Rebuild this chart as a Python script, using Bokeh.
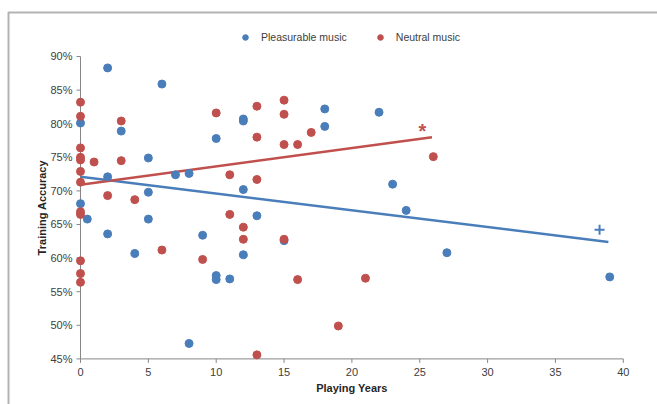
import math
from bokeh.plotting import figure
from bokeh.models import Range1d, Legend, LegendItem, BoxAnnotation
from bokeh.core.properties import value
from bokeh.embed import file_html
from bokeh.resources import INLINE

# ---- data ----
years_pleasurable = [0, 0, 0.5, 2, 2, 2, 3, 4, 5, 5, 5, 6, 7, 8, 8, 9, 10, 10, 10, 11,
                     12, 12, 12, 12, 13, 15, 18, 18, 22, 23, 24, 27, 39]
acc_pleasurable = [80.1, 68.1, 65.8, 88.3, 72.1, 63.6, 78.9, 60.7, 74.9, 69.8, 65.8, 85.9,
                   72.4, 72.6, 47.3, 63.4, 77.8, 57.4, 56.8, 56.9, 80.7, 80.4, 70.2, 60.5,
                   66.3, 62.6, 82.2, 79.6, 81.7, 71.0, 67.1, 60.8, 57.2]

years_neutral = [0, 0, 0, 0, 0, 0, 0, 0, 0, 0, 0, 0, 1, 2, 3, 3, 4, 6, 9, 10, 11, 11,
                 12, 12, 13, 13, 13, 13, 15, 15, 15, 15, 16, 16, 17, 19, 21, 26]
acc_neutral = [83.2, 81.1, 76.4, 75.0, 74.6, 72.9, 71.3, 66.9, 66.5, 59.6, 57.7, 56.4,
               74.3, 69.3, 80.4, 74.5, 68.7, 61.2, 59.8, 81.6, 72.4, 66.5, 64.6, 62.8,
               82.6, 78.0, 71.7, 45.6, 83.5, 81.4, 76.9, 62.8, 76.9, 56.8, 78.7, 49.9,
               57.0, 75.1]

trend_pleasurable_years = [0, 38.9]
trend_pleasurable_acc = [72.1, 62.4]
trend_neutral_years = [0, 25.9]
trend_neutral_acc = [70.9, 78.0]

sig_neutral_years = [25.2]
sig_neutral_acc = [79.4]
sig_neutral_text = ["*"]
sig_pleasurable_years = [38.25]
sig_pleasurable_acc = [64.2]

x_ticks = [0, 5, 10, 15, 20, 25, 30, 35, 40]
y_ticks = [45, 50, 55, 60, 65, 70, 75, 80, 85, 90]
x_tick_labels = [str(t) for t in x_ticks]
y_tick_labels = [f"{t}%" for t in y_ticks]

x_title = "Playing Years"
y_title = "Training Accuracy"
series_labels = ["Pleasurable music", "Neutral music"]

BLUE = "#4A7EBB"
RED = "#C0504D"
AXIS = "#868686"
TICK_TXT = "#404040"
TITLE_TXT = "#262626"
FONT = "Liberation Sans"
W, H = 657, 404

p = figure(width=W, height=H,
           x_range=Range1d(-5.895, 42.52), y_range=Range1d(38.214, 98.333),
           x_axis_type=None, y_axis_type=None,
           output_backend="svg", toolbar_location=None,
           min_border=0, min_border_left=0, min_border_right=0,
           min_border_top=0, min_border_bottom=0)
p.outline_line_color = None
p.background_fill_color = "white"
p.border_fill_color = "white"

# outer chart border (top and left edges visible in the reference)
p.add_layout(BoxAnnotation(left=8, right=W + 20, top=12, bottom=H + 20,
                           left_units="canvas", right_units="canvas",
                           top_units="canvas", bottom_units="canvas",
                           fill_alpha=0, line_color="black", line_width=2))

# axis lines and ticks
x0, y0 = x_ticks[0], y_ticks[0]
p.line([x0, x0], [y_ticks[0], y_ticks[-1]], line_color=AXIS, line_width=1)
p.line([x_ticks[0], x_ticks[-1]], [y0, y0], line_color=AXIS, line_width=1)
p.ray(x=[x0] * len(y_ticks), y=y_ticks, length=4, length_units="screen",
      angle=math.pi, line_color=AXIS, line_width=1)
p.ray(x=x_ticks, y=[y0] * len(x_ticks), length=4, length_units="screen",
      angle=-math.pi / 2, line_color=AXIS, line_width=1)

# tick labels
p.text(x=[x0] * len(y_ticks), y=y_ticks, text=y_tick_labels, x_offset=-8,
       text_align="right", text_baseline="middle", text_font=value(FONT),
       text_font_size="11px", text_color=TICK_TXT)
p.text(x=x_ticks, y=[y0] * len(x_ticks), text=x_tick_labels, y_offset=13,
       text_align="center", text_baseline="middle", text_font=value(FONT),
       text_font_size="11px", text_color=TICK_TXT)

# axis titles
p.text(x=[(x_ticks[0] + x_ticks[-1]) / 2], y=[y0], text=[x_title], y_offset=29,
       text_align="center", text_baseline="middle", text_font=value(FONT),
       text_font_size="11px", text_font_style="bold", text_color=TITLE_TXT)
p.text(x=[x0], y=[(y_ticks[0] + y_ticks[-1]) / 2], text=[y_title], x_offset=-38,
       angle=math.pi / 2, text_align="center", text_baseline="middle",
       text_font=value(FONT), text_font_size="11px", text_font_style="bold",
       text_color=TITLE_TXT)

# trend lines
p.line(trend_pleasurable_years, trend_pleasurable_acc, line_color=BLUE, line_width=2.5)
p.line(trend_neutral_years, trend_neutral_acc, line_color=RED, line_width=2.5)

# points
rb = p.scatter(years_pleasurable, acc_pleasurable, size=8, fill_color=BLUE, line_color=BLUE)
rr = p.scatter(years_neutral, acc_neutral, size=8, fill_color=RED, line_color=RED)

# significance marks
p.text(sig_neutral_years, sig_neutral_acc, text=sig_neutral_text,
       text_font=value(FONT), text_font_size="20px", text_font_style="bold",
       text_color=RED, text_align="center", text_baseline="middle", y_offset=3)
p.scatter(sig_pleasurable_years, sig_pleasurable_acc, marker="cross", size=10,
          line_width=2, line_color=BLUE)

legend = Legend(items=[LegendItem(label=series_labels[0], renderers=[rb]),
                       LegendItem(label=series_labels[1], renderers=[rr])],
                orientation="horizontal", location=(238, 360),
                border_line_color=None, background_fill_alpha=0,
                label_text_font=FONT, label_text_font_size="10.5px",
                label_text_color=TICK_TXT, glyph_width=14, glyph_height=14,
                label_standoff=9, spacing=26, padding=10, margin=0)
p.add_layout(legend, "center")

open("out.html", "w").write(file_html(p, INLINE))
